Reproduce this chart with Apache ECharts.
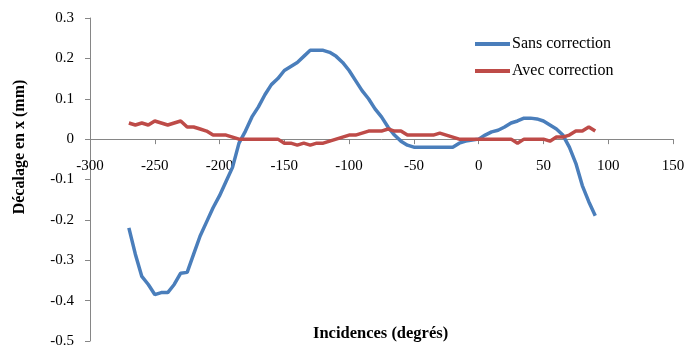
<!DOCTYPE html>
<html>
<head>
<meta charset="utf-8">
<script src="https://cdn.jsdelivr.net/npm/echarts@6/dist/echarts.min.js"></script>
<style>
html,body{margin:0;padding:0;background:#fff;}
#chart{width:687px;height:349px;}
</style>
</head>
<body>
<div id="chart"></div>
<script>
const incidence = [-270,-265,-260,-255,-250,-245,-240,-235,-230,-225,-220,-215,-210,-205,-200,-195,-190,-185,-180,-175,-170,-165,-160,-155,-150,-145,-140,-135,-130,-125,-120,-115,-110,-105,-100,-95,-90,-85,-80,-75,-70,-65,-60,-55,-50,-45,-40,-35,-30,-25,-20,-15,-10,-5,0,5,10,15,20,25,30,35,40,45,50,55,60,65,70,75,80,85,90];
const sansCorrection = [-0.22,-0.285,-0.34,-0.36,-0.385,-0.38,-0.38,-0.36,-0.332,-0.33,-0.285,-0.24,-0.205,-0.17,-0.14,-0.105,-0.07,-0.01,0.02,0.055,0.08,0.11,0.135,0.15,0.17,0.18,0.19,0.205,0.22,0.22,0.22,0.215,0.205,0.19,0.17,0.145,0.12,0.1,0.075,0.055,0.03,0.01,-0.005,-0.015,-0.02,-0.02,-0.02,-0.02,-0.02,-0.02,-0.02,-0.01,-0.005,-0.002,0,0.01,0.018,0.022,0.03,0.04,0.045,0.052,0.052,0.05,0.045,0.035,0.025,0.01,-0.02,-0.06,-0.115,-0.155,-0.19];
const avecCorrection = [0.04,0.035,0.04,0.035,0.045,0.04,0.035,0.04,0.045,0.03,0.03,0.025,0.02,0.01,0.01,0.01,0.005,0,0,0,0,0,0,0,-0.01,-0.01,-0.015,-0.01,-0.015,-0.01,-0.01,-0.005,0,0.005,0.01,0.01,0.015,0.02,0.02,0.02,0.025,0.02,0.02,0.01,0.01,0.01,0.01,0.01,0.015,0.01,0.005,0,0,0,0,0,0,0,0,0,-0.01,0,0,0,0,-0.005,0.005,0.005,0.01,0.02,0.02,0.03,0.02];
const seriesNames = ['Sans correction','Avec correction'];
const xTicks = {min:-300, max:150, interval:50};
const yTicks = {min:-0.5, max:0.3, interval:0.1};

const font = 'Liberation Serif';
const W = 687, H = 349;
const gridTop = 18, gridBottom = 8;
const plotH = H - gridTop - gridBottom;
// pixel offset of y = 0 inside the plot, from the y scale
const zeroFromTop = plotH * (yTicks.max - 0) / (yTicks.max - yTicks.min);

const chart = echarts.init(document.getElementById('chart'), null, {renderer:'canvas'});
chart.setOption({
  animation:false,
  backgroundColor:'#fff',
  grid:[
    {left:90, right:14, top:gridTop, bottom:gridBottom, outerBoundsMode:'none'},
    {left:90, right:14, top:gridTop, height:zeroFromTop, outerBoundsMode:'none'}
  ],
  legend:{
    orient:'vertical', left:470, top:31, itemGap:11,
    icon:'rect', itemWidth:35, itemHeight:4,
    textStyle:{fontFamily:font, fontSize:16, color:'#000', padding:[0,0,0,-3]},
    data:seriesNames
  },
  xAxis:[
    {
      gridIndex:0, type:'value', min:xTicks.min, max:xTicks.max, interval:xTicks.interval,
      show:false
    },
    {
      gridIndex:1, type:'value', min:xTicks.min, max:xTicks.max, interval:xTicks.interval,
      position:'bottom',
      axisLine:{onZero:false, lineStyle:{color:'#868686', width:1}},
      axisTick:{show:true, length:5, lineStyle:{color:'#868686'}},
      axisLabel:{fontFamily:font, fontSize:15, color:'#000', margin:19},
      splitLine:{show:false}
    }
  ],
  yAxis:[
    {
      gridIndex:0, type:'value', min:yTicks.min, max:yTicks.max, interval:yTicks.interval,
      axisLine:{show:true, onZero:false, lineStyle:{color:'#868686', width:1}},
      axisTick:{show:true, length:5, lineStyle:{color:'#868686'}},
      axisLabel:{fontFamily:font, fontSize:15, color:'#000', margin:16,
        formatter:v=>String(Math.round(v*10)/10)},
      splitLine:{show:false}
    },
    {
      gridIndex:1, type:'value', min:0, max:yTicks.max, show:false
    }
  ],
  graphic:[
    {type:'text', left:313, top:325, style:{text:'Incidences (degrés)', font:'bold 16.5px "Liberation Serif"', fill:'#000'}},
    {type:'text', x:20, y:147, rotation:Math.PI/2, style:{text:'Décalage en x (mm)', font:'bold 16px "Liberation Serif"', fill:'#000', align:'center', verticalAlign:'middle'}}
  ],
  series:[
    {name:seriesNames[0], type:'line', xAxisIndex:0, yAxisIndex:0, data:incidence.map((x,i)=>[x,sansCorrection[i]]), showSymbol:false, lineStyle:{width:3.5, color:'#4A7EBB'}, itemStyle:{color:'#4A7EBB'}},
    {name:seriesNames[1], type:'line', xAxisIndex:0, yAxisIndex:0, data:incidence.map((x,i)=>[x,avecCorrection[i]]), showSymbol:false, lineStyle:{width:3.5, color:'#BE4B48'}, itemStyle:{color:'#BE4B48'}}
  ]
});
</script>
</body>
</html>
